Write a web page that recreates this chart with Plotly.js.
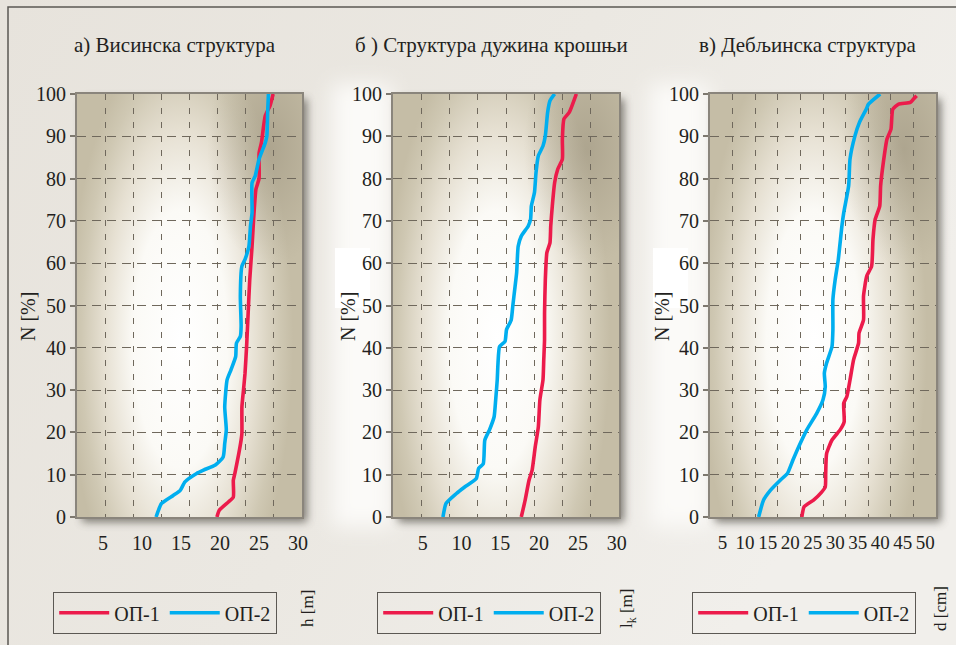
<!DOCTYPE html>
<html>
<head>
<meta charset="utf-8">
<script src="https://cdn.plot.ly/plotly-3.0.1.min.js"></script>
<style>
  html, body { margin: 0; padding: 0; background: #ebe8e2; }
  #chart { width: 956px; height: 645px; }
</style>
</head>
<body>
<div id="chart"></div>
<script>
// ---- Cumulative distributions: share of trees N [%] against the measured value ----

// а) tree height h [m]
const heightN_OP1 = [0, 1.6, 3.6, 4.7, 8.7, 10.3, 15, 18.2, 19.8, 26, 30, 34, 40.3, 48.2, 56, 64, 70.4, 77.5, 80, 86, 88.5, 94.9, 97.2, 100];
const height_OP1  = [19.6, 19.9, 21.1, 21.7, 21.7, 21.9, 22.4, 22.7, 22.8, 22.8, 23.0, 23.2, 23.4, 23.6, 23.8, 24.1, 24.3, 24.6, 25.0, 25.0, 25.3, 25.8, 26.4, 26.8];
const heightN_OP2 = [0, 3.2, 5.1, 6.3, 8.3, 10.3, 11.1, 12.3, 14.2, 17.4, 20.6, 26, 32.4, 34.8, 37.9, 41.1, 42.7, 45.1, 52.2, 59.3, 60.9, 64, 68.8, 71.9, 79, 80.6, 84.6, 88.5, 90.1, 95.7, 100];
const height_OP2  = [11.8, 12.5, 14.0, 14.9, 15.5, 17.0, 17.9, 19.4, 20.4, 20.6, 20.8, 20.6, 20.9, 21.4, 22.0, 22.1, 22.6, 22.7, 22.6, 22.8, 23.2, 23.7, 23.9, 24.1, 24.1, 24.5, 25.0, 25.8, 26.0, 26.1, 26.2];

// б) crown length lk [m]
const crownN_OP1 = [0, 4, 8.7, 11.1, 16.6, 21.3, 27.7, 32.4, 37.2, 41.9, 48.2, 56.1, 62.5, 64.8, 68.8, 73.5, 79, 82.2, 84.6, 89.3, 94.1, 95.7, 100];
const crown_OP1  = [17.7, 18.2, 18.7, 19.1, 19.5, 19.9, 20.1, 20.5, 20.6, 20.7, 20.7, 20.8, 21.0, 21.4, 21.5, 21.7, 22.0, 22.4, 23.0, 23.0, 23.2, 23.9, 24.8];
const crownN_OP2 = [0, 3.2, 5.5, 7.1, 9.1, 11.5, 12.6, 18.2, 20.6, 23.7, 27.7, 32.4, 36.4, 40.3, 41.5, 44.3, 46.6, 49.8, 54.5, 57.7, 64, 66.4, 68.8, 70.4, 73.5, 76.7, 81.4, 85.4, 87.7, 90.1, 95.7, 98.4, 100];
const crown_OP2  = [7.6, 8.0, 9.3, 10.4, 11.9, 12.2, 12.8, 13.0, 13.6, 14.2, 14.4, 14.6, 14.7, 14.9, 15.6, 15.8, 16.4, 16.6, 16.9, 17.1, 17.3, 17.7, 18.6, 18.9, 19.0, 19.4, 19.6, 19.9, 20.5, 20.8, 21.1, 21.4, 22.0];

// в) breast-height diameter d [cm]
const diamN_OP1 = [0, 2.4, 4, 5.9, 7.1, 10.3, 15, 18.2, 20.6, 22.5, 26.9, 28.5, 32.4, 37.2, 41.1, 43.5, 46.6, 52.2, 56.9, 59.3, 65.6, 70.4, 73.5, 78.3, 83.8, 89.3, 91.7, 96.4, 97.6, 98, 98.8, 99.6];
const diam_OP1  = [22.6, 23.1, 25.2, 27.0, 27.8, 27.9, 28.1, 29.3, 31.1, 32.0, 31.9, 32.6, 33.3, 34.1, 35.2, 35.3, 36.3, 36.3, 37.0, 38.1, 38.4, 38.9, 39.9, 40.1, 40.7, 41.5, 42.4, 42.8, 44.1, 46.7, 47.4, 48.1];
const diamN_OP2 = [0, 4, 6.3, 8.7, 10.3, 13.4, 16.6, 20.6, 24.5, 27.7, 30.8, 34, 36.4, 40.3, 44.3, 51.4, 56.1, 60.9, 68.8, 71.9, 78.3, 84.6, 90.1, 93.3, 96.4, 97.6, 100];
const diam_OP2  = [13.0, 14.1, 15.6, 17.8, 19.4, 20.6, 21.9, 23.7, 25.9, 27.3, 27.8, 27.6, 28.1, 29.3, 29.5, 29.5, 30.0, 30.7, 31.5, 31.9, 33.0, 33.3, 34.4, 35.4, 36.9, 37.4, 40.0];

// Labels
const panelTitles = ['а) Висинска структура', 'б ) Структура дужина крошњи', 'в) Дебљинска структура'];
const unitLabels  = ['h [m]', 'l<sub>k</sub> [m]', 'd [cm]'];
const seriesNames = ['ОП-1', 'ОП-2'];
const yTitle = 'N [%]';

// ---- Page geometry (pixels) ----
const W = 956, H = 645;
const FONT = '"Liberation Serif", "Times New Roman", serif';
const RED = '#ec1b4b', BLUE = '#00aeef';
const panels = [
  { x0: 77,  x1: 302, range: [1.67, 30.5], gridDiv: 8,  tickSize: 20 },
  { x0: 393, x1: 619, range: [1.16, 30.3], gridDiv: 8,  tickSize: 20 },
  { x0: 710, x1: 936, range: [2.2, 52.4],  gridDiv: 10, tickSize: 19 }
];
const plotTop = 94, plotBottom = 517;
const px = v => v / W;
const py = v => 1 - v / H;

// ---- Decorative backdrop: paper tone, plot-area glow and drop shadows ----
function backdrop() {
  let s = `<svg xmlns="http://www.w3.org/2000/svg" width="${W}" height="${H}" viewBox="0 0 ${W} ${H}">`;
  s += `<defs>
    <linearGradient id="paper" x1="0" y1="0" x2="1" y2="0.4">
      <stop offset="0" stop-color="#e7e3dc"/><stop offset="0.55" stop-color="#ebe8e2"/><stop offset="1" stop-color="#f1efeb"/>
    </linearGradient>
    <radialGradient id="glow" cx="0.46" cy="0.58" r="0.5"
        gradientTransform="translate(0.46,0.58) scale(1,1.45) translate(-0.46,-0.58)">
      <stop offset="0" stop-color="#ffffff"/><stop offset="0.42" stop-color="#fbfaf6"/>
      <stop offset="0.68" stop-color="#e6e0d2"/><stop offset="0.88" stop-color="#cfc8b3"/><stop offset="1" stop-color="#c5bda6"/>
    </radialGradient>
    <radialGradient id="dark" cx="0.86" cy="0.13" r="0.28">
      <stop offset="0" stop-color="#968d78" stop-opacity="0.5"/><stop offset="1" stop-color="#968d78" stop-opacity="0"/>
    </radialGradient>
    <filter id="blur4" x="-30%" y="-30%" width="160%" height="160%"><feGaussianBlur stdDeviation="4"/></filter>
    <filter id="blur10" x="-50%" y="-50%" width="200%" height="200%"><feGaussianBlur stdDeviation="10"/></filter>
  </defs>`;
  s += `<rect x="0" y="0" width="${W}" height="${H}" fill="url(#paper)"/>`;
  // pale bands to the left of the second and third plot areas
  [[322, 392], [640, 709]].forEach(([a, b]) => {
    s += `<rect x="${a + 10}" y="${plotTop - 10}" width="${b - a - 10}" height="${plotBottom - plotTop + 20}" fill="#fbfaf8" filter="url(#blur10)"/>`;
    s += `<rect x="${a + 13}" y="248" width="35" height="60" fill="#ffffff"/>`;
  });
  panels.forEach(p => {
    const w = p.x1 - p.x0, h = plotBottom - plotTop;
    s += `<rect x="${p.x0 + 5}" y="${plotTop + 5}" width="${w}" height="${h}" fill="#58544d" opacity="0.75" filter="url(#blur4)"/>`;
    s += `<rect x="${p.x0}" y="${plotTop}" width="${w}" height="${h}" fill="url(#glow)"/>`;
    s += `<rect x="${p.x0}" y="${plotTop}" width="${w}" height="${h}" fill="url(#dark)"/>`;
  });
  s += `<rect x="8" y="7" width="${W + 20}" height="${H + 20}" fill="none" stroke="#5b5853" stroke-width="1.5"/>`;
  s += `</svg>`;
  return 'data:image/svg+xml;charset=utf-8,' + encodeURIComponent(s);
}

// ---- Traces ----
const seriesData = [
  [[height_OP1, heightN_OP1], [height_OP2, heightN_OP2]],
  [[crown_OP1, crownN_OP1], [crown_OP2, crownN_OP2]],
  [[diam_OP1, diamN_OP1], [diam_OP2, diamN_OP2]]
];
const traces = [];
seriesData.forEach((pair, i) => {
  const sfx = i === 0 ? '' : String(i + 1);
  pair.forEach(([xs, ys], j) => {
    traces.push({
      type: 'scatter', mode: 'lines',
      x: xs, y: ys, name: seriesNames[j],
      xaxis: 'x' + sfx, yaxis: 'y' + sfx,
      legend: 'legend' + sfx,
      line: { color: j === 0 ? RED : BLUE, width: 3.6, shape: 'spline', smoothing: 0.5 },
      hoverinfo: 'x+y'
    });
  });
  // empty trace carrying the overlay grid axis of this panel
  traces.push({ type: 'scatter', x: [], y: [], xaxis: 'x' + (i + 4), yaxis: 'y' + sfx, showlegend: false, hoverinfo: 'skip' });
});

// ---- Layout ----
const layout = {
  width: W, height: H,
  margin: { l: 0, r: 0, t: 0, b: 0 },
  paper_bgcolor: '#ebe8e2',
  plot_bgcolor: 'rgba(0,0,0,0)',
  font: { family: FONT, color: '#231f20', size: 20 },
  showlegend: true,
  images: [{ source: backdrop(), xref: 'paper', yref: 'paper', x: 0, y: 1, sizex: 1, sizey: 1,
             sizing: 'stretch', xanchor: 'left', yanchor: 'top', layer: 'below' }],
  annotations: [],
  hovermode: 'closest'
};

const legendLeft = [53, 377, 692];
const titleCenter = [175, 492, 808];
const yTitleX = [28, 348, 662];
const unitX = [307, 628, 940];

panels.forEach((p, i) => {
  const sfx = i === 0 ? '' : String(i + 1);
  const dom = [px(p.x0), px(p.x1)];
  layout['xaxis' + sfx] = {
    domain: dom, anchor: 'y' + sfx, range: p.range,
    tick0: 0, dtick: 5, showgrid: false, zeroline: false,
    showline: true, mirror: true, linecolor: '#8a857c', linewidth: 2,
    ticks: 'outside', ticklen: 7, tickcolor: 'rgba(0,0,0,0)',
    tickfont: { family: FONT, size: p.tickSize, color: '#231f20' }
  };
  layout['yaxis' + sfx] = {
    domain: [py(plotBottom), py(plotTop)], anchor: 'x' + sfx, range: [0, 100],
    tick0: 0, dtick: 10, zeroline: false,
    showgrid: true, gridcolor: '#6f685c', gridwidth: 1.2, griddash: '9px,6px',
    showline: true, mirror: true, linecolor: '#8a857c', linewidth: 2,
    ticks: 'outside', ticklen: 5, tickwidth: 1.5, tickcolor: '#7d786f',
    tickfont: { family: FONT, size: 20, color: '#231f20' }
  };
  // vertical dashed grid, evenly dividing the plot width
  layout['xaxis' + (i + 4)] = {
    overlaying: 'x' + sfx, anchor: 'y' + sfx, range: [0, p.gridDiv], dtick: 1,
    showgrid: true, gridcolor: '#6f685c', gridwidth: 1.2, griddash: '6px,8px',
    showticklabels: false, ticks: '', zeroline: false, showline: false
  };
  layout['legend' + sfx] = {
    x: px(legendLeft[i]), xanchor: 'left', y: py(592), yanchor: 'top',
    orientation: 'h', bgcolor: 'rgba(0,0,0,0)', bordercolor: '#5b5853', borderwidth: 1.2,
    font: { family: FONT, size: 20, color: '#231f20' }, itemwidth: 50
  };
  layout.annotations.push(
    { text: panelTitles[i], xref: 'paper', yref: 'paper', x: px(titleCenter[i]), y: py(45),
      xanchor: 'center', yanchor: 'middle', showarrow: false, font: { family: FONT, size: 21, color: '#231f20' } },
    { text: yTitle, xref: 'paper', yref: 'paper', x: px(yTitleX[i]), y: py(317), textangle: -90,
      xanchor: 'center', yanchor: 'middle', showarrow: false, font: { family: FONT, size: 20, color: '#231f20' } },
    { text: unitLabels[i], xref: 'paper', yref: 'paper', x: px(unitX[i]), y: py(609), textangle: -90,
      xanchor: 'center', yanchor: 'middle', showarrow: false, font: { family: FONT, size: 17, color: '#231f20' } }
  );
});

Plotly.newPlot('chart', traces, layout, { displayModeBar: false, responsive: false });
</script>
</body>
</html>
